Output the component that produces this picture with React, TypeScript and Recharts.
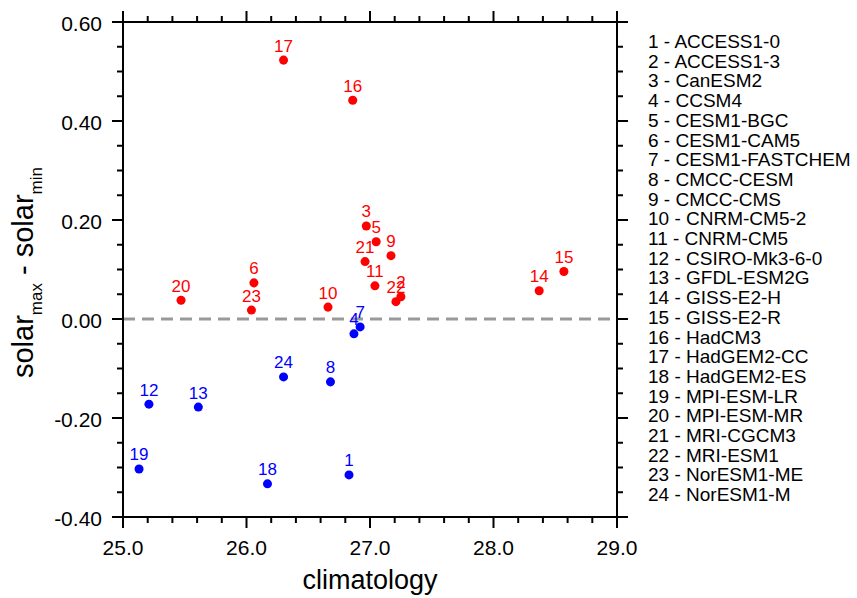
import React from 'react';
import { ScatterChart, Scatter, XAxis, YAxis, ReferenceLine, LabelList, Legend } from 'recharts';

// CMIP5 models, numbered 1..24 in this order
const modelNames = [
  'ACCESS1-0', 'ACCESS1-3', 'CanESM2', 'CCSM4', 'CESM1-BGC', 'CESM1-CAM5',
  'CESM1-FASTCHEM', 'CMCC-CESM', 'CMCC-CMS', 'CNRM-CM5-2', 'CNRM-CM5', 'CSIRO-Mk3-6-0',
  'GFDL-ESM2G', 'GISS-E2-H', 'GISS-E2-R', 'HadCM3', 'HadGEM2-CC', 'HadGEM2-ES',
  'MPI-ESM-LR', 'MPI-ESM-MR', 'MRI-CGCM3', 'MRI-ESM1', 'NorESM1-ME', 'NorESM1-M',
];

const climatology = [
  26.83, 27.25, 26.97, 26.87, 27.05, 26.06,
  26.92, 26.68, 27.17, 26.66, 27.04, 25.21,
  25.61, 28.37, 28.57, 26.86, 26.30, 26.17,
  25.13, 25.47, 26.96, 27.21, 26.04, 26.30,
];

const solarDiff = [
  -0.315, 0.045, 0.188, -0.030, 0.156, 0.073,
  -0.016, -0.127, 0.128, 0.024, 0.067, -0.172,
  -0.178, 0.057, 0.096, 0.442, 0.523, -0.333,
  -0.303, 0.038, 0.116, 0.035, 0.018, -0.117,
];

const xMajorTicks = [25, 26, 27, 28, 29];
const xTicks = [
  25, 25.2, 25.4, 25.6, 25.8, 26, 26.2, 26.4, 26.6, 26.8, 27,
  27.2, 27.4, 27.6, 27.8, 28, 28.2, 28.4, 28.6, 28.8, 29,
];
const yMajorTicks = [-0.4, -0.2, 0, 0.2, 0.4, 0.6];
const yTicks = [
  -0.4, -0.35, -0.3, -0.25, -0.2, -0.15, -0.1, -0.05, 0,
  0.05, 0.1, 0.15, 0.2, 0.25, 0.3, 0.35, 0.4, 0.45, 0.5, 0.55, 0.6,
];

const RED = '#ff0000';
const BLUE = '#0000ff';
const FONT = '"Liberation Sans", Arial, Helvetica, sans-serif';

const points = modelNames.map((name, i) => ({
  id: i + 1,
  name,
  x: climatology[i],
  y: solarDiff[i],
}));
const positive = points.filter((p) => p.y >= 0);
const negative = points.filter((p) => p.y < 0);

const isMajor = (v: number, majors: number[]) => majors.some((m) => Math.abs(m - v) < 1e-6);

const MAJOR = 11;
const MINOR = 6;

const BottomTick = ({ x, y, payload }: any) => {
  const major = isMajor(payload.value, xMajorTicks);
  return (
    <g>
      <line x1={x} x2={x} y1={y} y2={y + (major ? MAJOR : MINOR)} stroke="#000" strokeWidth={2} />
      {major && (
        <text x={x} y={y + 38} textAnchor="middle" fontSize={21} fill="#000">
          {payload.value.toFixed(1)}
        </text>
      )}
    </g>
  );
};

const TopTick = ({ x, y, payload }: any) => {
  const major = isMajor(payload.value, xMajorTicks);
  return <line x1={x} x2={x} y1={y} y2={y - (major ? MAJOR : MINOR)} stroke="#000" strokeWidth={2} />;
};

const LeftTick = ({ x, y, payload }: any) => {
  const major = isMajor(payload.value, yMajorTicks);
  return (
    <g>
      <line x1={x} x2={x - (major ? MAJOR : MINOR)} y1={y} y2={y} stroke="#000" strokeWidth={2} />
      {major && (
        <text x={x - 21} y={y + 9} textAnchor="end" fontSize={21} fill="#000">
          {payload.value.toFixed(2)}
        </text>
      )}
    </g>
  );
};

const RightTick = ({ x, y, payload }: any) => {
  const major = isMajor(payload.value, yMajorTicks);
  return <line x1={x} x2={x + (major ? MAJOR : MINOR)} y1={y} y2={y} stroke="#000" strokeWidth={2} />;
};

const YTitle = ({ viewBox }: any) => {
  const cx = viewBox.x + 10;
  const cy = viewBox.y + viewBox.height / 2 + 3;
  return (
    <text transform={`translate(${cx},${cy}) rotate(-90)`} textAnchor="middle" fontSize={29} fill="#000">
      <tspan>solar</tspan>
      <tspan fontSize={17} dy={9}>max</tspan>
      <tspan dy={-9}> - solar</tspan>
      <tspan fontSize={17} dy={9}>min</tspan>
    </text>
  );
};

const renderLegend = () => (
  <div style={{ fontSize: 19, lineHeight: '19.7px', color: '#000', whiteSpace: 'nowrap' }}>
    {points.map((p) => (
      <div key={p.id}>{`${p.id} - ${p.name}`}</div>
    ))}
  </div>
);

const App: React.FC = () => {
  return (
    <div style={{ position: 'absolute', left: 0, top: 0, width: 857, height: 598, background: '#fff', fontFamily: FONT }}>
      <ScatterChart
        width={857}
        height={598}
        margin={{ top: 12, right: 230, bottom: 0, left: 23 }}
        style={{ fontFamily: FONT }}
      >
        <XAxis
          xAxisId="b"
          type="number"
          dataKey="x"
          domain={[25, 29]}
          ticks={xTicks}
          interval={0}
          height={81}
          tickSize={0}
          tickMargin={0}
          tick={<BottomTick />}
          axisLine={{ stroke: '#000', strokeWidth: 2 }}
          label={{ value: 'climatology', position: 'insideBottom', offset: 9, fontSize: 27, fill: '#000' }}
        />
        <XAxis
          xAxisId="t"
          orientation="top"
          type="number"
          dataKey="x"
          domain={[25, 29]}
          ticks={xTicks}
          interval={0}
          height={10}
          tickSize={0}
          tickMargin={0}
          tick={<TopTick />}
          axisLine={{ stroke: '#000', strokeWidth: 2 }}
        />
        <YAxis
          yAxisId="l"
          type="number"
          dataKey="y"
          domain={[-0.4, 0.6]}
          ticks={yTicks}
          interval={0}
          width={100}
          tickSize={0}
          tickMargin={0}
          tick={<LeftTick />}
          axisLine={{ stroke: '#000', strokeWidth: 2 }}
          label={<YTitle />}
        />
        <YAxis
          yAxisId="r"
          orientation="right"
          type="number"
          dataKey="y"
          domain={[-0.4, 0.6]}
          ticks={yTicks}
          interval={0}
          width={10}
          tickSize={0}
          tickMargin={0}
          tick={<RightTick />}
          axisLine={{ stroke: '#000', strokeWidth: 2 }}
        />
        <ReferenceLine xAxisId="b" yAxisId="l" y={0} stroke="#999999" strokeWidth={3} strokeDasharray="12 7" />
        <Scatter xAxisId="b" yAxisId="l" data={positive} fill={RED} isAnimationActive={false}>
          <LabelList dataKey="id" position="top" offset={4} fontSize={17} fill={RED} />
        </Scatter>
        <Scatter xAxisId="b" yAxisId="l" data={negative} fill={BLUE} isAnimationActive={false}>
          <LabelList dataKey="id" position="top" offset={4} fontSize={17} fill={BLUE} />
        </Scatter>
        <Scatter xAxisId="t" yAxisId="r" data={points} fill="none" legendType="none" isAnimationActive={false} shape={() => <g />} />
        <Legend
          layout="vertical"
          align="center"
          verticalAlign="middle"
          content={renderLegend}
          wrapperStyle={{ position: 'absolute', left: 648, top: 32, width: 209, margin: 0, padding: 0 }}
        />
      </ScatterChart>
    </div>
  );
};

export default App;
